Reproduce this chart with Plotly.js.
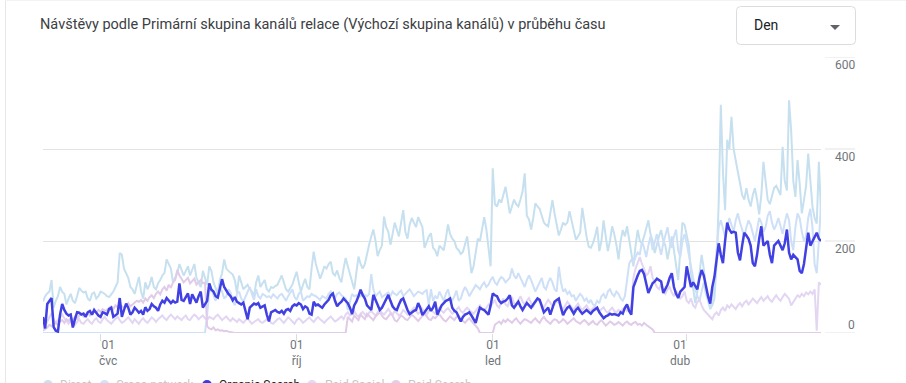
<!DOCTYPE html>
<html>
<head>
<meta charset="utf-8">
<script src="https://cdn.plot.ly/plotly-3.0.1.min.js"></script>
<style>
html,body{margin:0;padding:0;background:#fff;}
#chart{width:906px;height:383px;}
</style>
</head>
<body>
<div id="chart"></div>
<script>
// ---- data ----
const startDate = '2023-06-04';
const dayCount = 366;
const tickDates = ['2023-07-01','2023-10-01','2024-01-01','2024-04-01'];
const tickLabels = ['01<br>čvc','01<br>říj','01<br>led','01<br>dub'];
const yTicks = [0,200,400,600];
const seriesNames = ['Direct','Cross-network','Organic Search','Paid Social','Paid Search'];

const organic = [
35,10,63,70,76,13,5,3,40,63,
50,42,38,40,12,30,45,44,40,42,
35,45,48,40,50,44,38,35,45,43,
40,52,55,35,38,42,76,35,50,64,
55,40,45,55,50,44,48,40,56,48,
52,63,58,55,48,62,70,66,76,70,
65,70,66,68,108,72,70,78,86,63,
84,75,66,80,90,55,62,70,108,94,
90,80,77,95,117,100,92,85,80,71,
78,68,65,62,66,48,30,55,60,64,
62,65,55,58,60,40,25,45,48,50,
46,44,48,42,50,52,48,58,62,60,
65,62,52,58,55,42,40,68,60,62,
58,55,62,68,72,82,86,70,58,64,
68,75,70,65,55,41,60,68,80,94,
82,75,60,55,50,83,72,58,50,55,
65,75,83,70,58,52,50,62,72,75,
60,50,41,45,48,50,65,55,39,45,
52,58,48,55,68,40,50,60,65,70,
72,75,55,48,45,35,25,35,40,42,
45,38,30,22,40,55,52,50,45,40,
60,86,82,80,70,65,68,70,75,82,
60,55,62,68,58,50,58,65,60,55,
62,70,75,72,60,45,50,55,40,55,
68,72,75,55,39,48,55,58,50,42,
50,55,48,42,46,50,46,42,48,52,
55,45,38,32,36,38,42,40,41,40,
38,45,42,55,62,48,40,100,115,125,
135,137,128,110,87,98,108,112,118,115,
112,87,95,105,120,130,100,85,76,90,
95,100,145,120,100,110,102,95,120,137,
125,100,80,64,100,122,160,195,170,152,
200,240,225,218,220,218,175,158,190,218,
212,205,190,152,145,170,205,232,190,195,
200,170,152,190,195,200,190,180,195,225,
175,160,170,165,160,135,130,150,190,218,
190,200,210,218,205,200
];

const direct = [
68,80,86,90,115,55,70,80,100,90,
85,62,75,85,70,65,80,98,92,88,
90,75,70,85,88,75,80,90,88,85,
80,78,84,90,100,110,174,170,140,131,
120,100,95,85,105,122,90,75,110,95,
105,122,100,95,108,115,125,131,160,150,
140,110,120,130,150,138,125,135,145,125,
140,150,120,110,100,135,120,105,145,135,
110,95,85,115,130,160,140,135,130,127,
115,87,125,110,95,100,105,95,90,80,
110,125,100,108,115,95,90,100,98,102,
105,115,125,110,95,90,98,105,120,133,
110,90,105,118,100,95,140,177,150,136,
118,130,145,140,150,155,130,125,136,120,
110,140,163,145,130,110,95,130,166,150,
140,150,175,192,210,225,200,167,180,190,
253,230,220,192,215,240,225,210,240,267,
220,205,235,250,240,230,252,240,230,185,
200,210,217,185,180,167,190,185,180,205,
236,215,205,200,185,180,172,176,195,210,
170,130,145,175,205,200,230,252,225,190,
145,358,280,275,290,283,300,318,290,260,
275,290,280,275,290,308,347,255,247,225,
250,282,275,270,255,240,235,232,260,289,
260,232,212,225,240,235,240,265,245,225,
203,210,218,272,240,210,188,185,195,210,
231,178,200,245,210,178,200,232,215,192,
160,200,224,210,232,200,174,145,190,224,
200,195,210,230,245,215,200,174,195,210,
224,200,190,160,185,210,180,150,115,180,
240,235,215,190,130,100,65,90,130,170,
140,100,75,52,60,75,150,283,496,350,
267,420,400,470,400,370,350,326,300,290,
315,290,275,300,315,290,258,300,372,330,
290,280,300,315,320,310,300,405,330,310,
506,440,330,296,376,325,260,289,320,390,
330,275,250,238,372,260
];

const crossNetwork = [
0,0,0,0,0,0,0,0,0,0,
0,0,0,0,0,0,0,0,0,0,
0,0,0,0,0,0,0,0,0,0,
0,0,0,0,0,0,0,0,0,0,
0,0,0,0,0,0,0,0,0,0,
0,0,0,0,0,0,0,0,0,0,
0,0,0,0,0,0,0,0,0,0,
0,0,0,0,0,0,0,40,90,95,
80,70,85,100,90,75,80,95,88,70,
60,85,90,75,68,80,92,100,85,72,
95,80,75,85,82,78,80,76,84,80,
75,82,85,78,70,80,88,95,78,72,
85,90,70,75,80,78,85,82,80,76,
72,80,78,75,85,90,80,76,85,88,
82,78,75,50,70,85,80,82,78,80,
85,82,80,84,128,95,80,85,90,78,
82,85,88,80,90,85,82,88,92,80,
85,90,95,88,80,85,90,88,85,90,
93,60,95,70,80,75,90,80,70,85,
95,75,70,80,92,70,75,90,100,92,
80,88,96,104,100,95,104,110,100,105,
115,122,110,105,115,122,118,110,115,120,
140,125,118,130,120,110,100,115,125,115,
100,90,100,110,120,100,95,110,120,110,
95,90,144,110,90,95,85,90,80,82,
70,78,85,80,70,75,65,72,62,60,
70,65,80,85,75,90,95,85,80,90,
85,75,70,80,120,150,160,152,165,175,
170,200,185,165,190,210,180,200,215,190,
170,195,215,230,200,185,210,225,180,165,
200,215,195,170,150,120,95,80,70,90,
110,85,70,55,75,110,180,230,245,225,
210,230,250,235,220,245,260,240,225,210,
230,245,235,215,200,225,250,240,220,230,
255,265,240,225,235,250,230,215,240,260,
245,200,180,230,260,250,220,200,210,250,
270,230,150,130,200,280
];

const paidSocial = [
10,15,25,35,43,30,22,28,35,40,
32,25,20,28,14,18,25,30,22,20,
26,30,24,20,28,32,25,22,30,35,
28,24,20,26,30,35,28,22,25,30,
34,28,22,30,25,20,28,32,26,22,
28,34,30,24,30,35,38,32,28,35,
40,35,30,36,32,28,34,38,30,28,
35,40,36,30,34,38,32,28,35,32,
30,36,40,34,28,32,36,30,26,32,
28,24,30,26,22,28,32,26,20,24,
28,30,24,22,26,30,28,22,20,26,
30,32,26,22,28,34,30,24,20,28,
32,28,22,26,30,34,28,24,30,35,
30,26,22,28,32,36,30,25,28,32,
36,30,40,45,38,42,48,40,35,42,
46,40,36,44,48,42,38,45,50,44,
40,46,52,45,40,48,44,38,42,50,
46,40,44,50,55,48,42,46,52,45,
40,48,52,46,42,50,55,48,44,50,
54,48,42,46,52,56,48,44,50,55,
50,46,42,48,55,60,52,48,55,62,
58,65,72,60,55,68,75,62,58,70,
78,65,60,72,80,68,62,70,76,65,
58,66,74,68,60,55,64,72,66,58,
62,70,66,58,52,60,68,62,55,50,
58,64,56,50,55,60,52,48,54,58,
50,46,52,56,48,44,50,55,48,45,
50,46,52,55,48,50,60,120,140,155,
165,150,140,125,130,145,120,110,100,95,
105,90,85,95,100,88,80,92,85,75,
80,90,70,65,75,60,55,68,72,60,
50,45,40,35,30,40,45,38,50,55,
48,60,55,62,58,52,60,65,58,66,
70,62,68,75,70,65,72,78,70,74,
80,72,68,76,82,75,70,78,85,80,
74,60,68,75,82,78,85,80,88,84,
90,85,95,5,110,105
];

const paidSearch = [
5,8,12,18,15,20,22,18,25,28,
22,30,26,32,28,35,30,38,42,36,
40,45,38,42,48,44,50,46,52,48,
50,55,58,52,60,56,62,58,55,60,
65,58,62,66,70,68,72,66,75,70,
78,82,76,85,90,84,95,100,92,105,
98,110,115,137,125,118,110,115,120,108,
112,118,105,110,115,108,110,15,10,8,
12,6,8,5,6,4,5,3,2,0,
0,0,0,0,0,0,0,0,0,0,
0,0,0,0,0,0,0,0,0,0,
0,0,0,0,0,0,0,0,0,0,
0,0,0,0,0,0,0,0,0,0,
0,0,0,0,0,0,0,0,0,0,
0,0,0,35,30,25,38,32,28,40,
35,30,42,38,33,28,36,40,45,38,
32,30,35,42,38,28,25,32,38,35,
30,28,35,40,36,30,26,32,38,42,
36,30,28,35,32,38,40,34,28,25,
30,36,32,28,35,38,30,26,22,28,
32,26,20,15,10,0,0,0,0,0,
0,0,18,22,25,20,28,24,30,26,
22,28,32,25,20,26,30,28,24,22,
28,32,26,22,30,35,28,24,20,26,
30,28,22,25,30,26,20,24,28,32,
26,22,20,25,28,24,18,22,26,20,
18,24,28,22,16,20,25,22,18,20,
24,20,16,22,25,20,18,22,24,18,
20,16,22,18,14,10,8,0,0,0,
0,0,0,0,0,0,0,0,0,0,
0,0,0,0,0,0,0,0,0,0,
0,0,0,0,0,0,0,0,0,0,
0,0,0,0,0,0,0,0,0,0,
0,0,0,0,0,0,0,0,0,0,
0,0,0,0,0,0,0,0,0,0,
0,0,0,0,0,0,0,0,0,0,
0,0,0,0,0,0
];

// ---- dates ----
const dates = [];
{
  const t0 = Date.parse(startDate + 'T00:00:00Z');
  for (let i = 0; i < dayCount; i++) {
    dates.push(new Date(t0 + i * 86400000).toISOString().slice(0, 10));
  }
}

// ---- geometry helpers (pixel -> paper) ----
const PL = 43, PR = 821, PT = 57, PB = 333;
const px = v => (v - PL) / (PR - PL);
const py = v => (PB - v) / (PB - PT);

const colors = {
  direct: '#c6e0ef',
  cross: '#cee0f7',
  organic: '#4141e3',
  social: '#e2d6f3',
  search: '#e0cbe9'
};

function tr(y, color, width) {
  return {
    x: dates.slice(0, y.length), y: y, type: 'scatter', mode: 'lines',
    line: {color: color, width: width}, hoverinfo: 'skip', showlegend: false
  };
}

const traces = [
  tr(direct, colors.direct, 2),
  tr(crossNetwork, colors.cross, 2),
  tr(paidSocial, colors.social, 2),
  tr(paidSearch, colors.search, 2),
  tr(organic, colors.organic, 2.5)
];

const gridColor = '#e3e3e3';
const shapes = [];
// short grid segments under the right-hand labels
yTicks.forEach(v => {
  shapes.push({type: 'line', xref: 'paper', yref: 'y', x0: px(825), x1: px(855), y0: v, y1: v,
    line: {color: gridColor, width: 1}});
});
// card edges
shapes.push({type: 'line', xref: 'paper', yref: 'paper', x0: px(5.5), x1: px(5.5), y0: py(0), y1: py(383),
  line: {color: '#e6e7ea', width: 1}});
shapes.push({type: 'line', xref: 'paper', yref: 'paper', x0: px(5), x1: px(906), y0: py(0.5), y1: py(0.5),
  line: {color: '#f1f3f4', width: 1}});
// dropdown box with rounded corners
{
  const x0 = 736.5, x1 = 855.5, y0 = 6.5, y1 = 44.5, r = 4;
  const P = (x, y) => px(x) + ',' + py(y);
  const path = 'M' + P(x0 + r, y0) + ' L' + P(x1 - r, y0) + ' Q' + P(x1, y0) + ' ' + P(x1, y0 + r) +
    ' L' + P(x1, y1 - r) + ' Q' + P(x1, y1) + ' ' + P(x1 - r, y1) +
    ' L' + P(x0 + r, y1) + ' Q' + P(x0, y1) + ' ' + P(x0, y1 - r) +
    ' L' + P(x0, y0 + r) + ' Q' + P(x0, y0) + ' ' + P(x0 + r, y0) + ' Z';
  shapes.push({type: 'path', xref: 'paper', yref: 'paper', path: path,
    line: {color: '#dadce0', width: 1}, fillcolor: 'rgba(0,0,0,0)'});
  const tri = 'M' + P(830, 25) + ' L' + P(840, 25) + ' L' + P(835, 30) + ' Z';
  shapes.push({type: 'path', xref: 'paper', yref: 'paper', path: tri,
    line: {color: '#5f6368', width: 0}, fillcolor: '#5f6368'});
}
// legend dots
const legendItems = [
  {name: seriesNames[0], cx: 48, tx: 58, dot: '#cbe2ee', txt: '#c4c7cc'},
  {name: seriesNames[1], cx: 104.5, tx: 114, dot: '#d1e3f9', txt: '#c4c7cc'},
  {name: seriesNames[2], cx: 207, tx: 217, dot: '#3b3bdf', txt: '#202124'},
  {name: seriesNames[3], cx: 312, tx: 323, dot: '#e3d8f5', txt: '#c4c7cc'},
  {name: seriesNames[4], cx: 396, tx: 406, dot: '#e3cdea', txt: '#c4c7cc'}
];
const LY = 385;
legendItems.forEach(it => {
  shapes.push({type: 'circle', xref: 'paper', yref: 'paper',
    x0: px(it.cx - 5), x1: px(it.cx + 5), y0: py(LY - 5), y1: py(LY + 5),
    fillcolor: it.dot, line: {width: 0}});
});

const font = 'Roboto, Arial, sans-serif';
const annotations = [];
annotations.push({xref: 'paper', yref: 'paper', x: px(38), y: py(25), xanchor: 'left', yanchor: 'middle',
  text: 'Návštěvy podle Primární skupina kanálů relace (Výchozí skupina kanálů) v průběhu času',
  showarrow: false, font: {family: font, size: 14.5, color: '#3c4043'}});
annotations.push({xref: 'paper', yref: 'paper', x: px(752), y: py(25), xanchor: 'left', yanchor: 'middle',
  text: 'Den', showarrow: false, font: {family: font, size: 14, color: '#202124'}});
yTicks.forEach(v => {
  annotations.push({xref: 'paper', yref: 'y', x: px(857), y: v, xanchor: 'right', yanchor: 'middle',
    yshift: v === 0 ? 8 : -8, text: String(v), showarrow: false,
    font: {family: font, size: 12, color: '#70757a'}});
});
// month tick labels (placed like the reference, slightly off the tick marks at the ends)
const labelShift = [7, 0, 0, -7];
tickDates.forEach((d, i) => {
  annotations.push({xref: 'x', yref: 'paper', x: d, y: py(336), xanchor: 'center', yanchor: 'top',
    xshift: labelShift[i], text: tickLabels[i], showarrow: false, align: 'center',
    font: {family: font, size: 12, color: '#70757a'}});
});
legendItems.forEach(it => {
  annotations.push({xref: 'paper', yref: 'paper', x: px(it.tx), y: py(LY), xanchor: 'left', yanchor: 'middle',
    text: it.name, showarrow: false, font: {family: font, size: 12, color: it.txt}});
});

const layout = {
  width: 906, height: 383,
  margin: {l: PL, r: 906 - PR, t: PT, b: 383 - PB, pad: 0},
  paper_bgcolor: '#ffffff', plot_bgcolor: '#ffffff',
  showlegend: false,
  xaxis: {
    type: 'date', range: [dates[0], dates[dates.length - 1]],
    tickvals: tickDates, showticklabels: false,
    ticks: 'outside', ticklen: 7, tickcolor: '#dadce0', tickwidth: 1,
    showgrid: false, zeroline: false, showline: false, fixedrange: true
  },
  yaxis: {
    range: [0, 600], tickvals: yTicks, showticklabels: false,
    showgrid: true, gridcolor: gridColor, gridwidth: 1,
    zeroline: false, showline: false, ticks: '', fixedrange: true
  },
  shapes: shapes,
  annotations: annotations
};

Plotly.newPlot('chart', traces, layout, {displayModeBar: false, staticPlot: true});
</script>
</body>
</html>
